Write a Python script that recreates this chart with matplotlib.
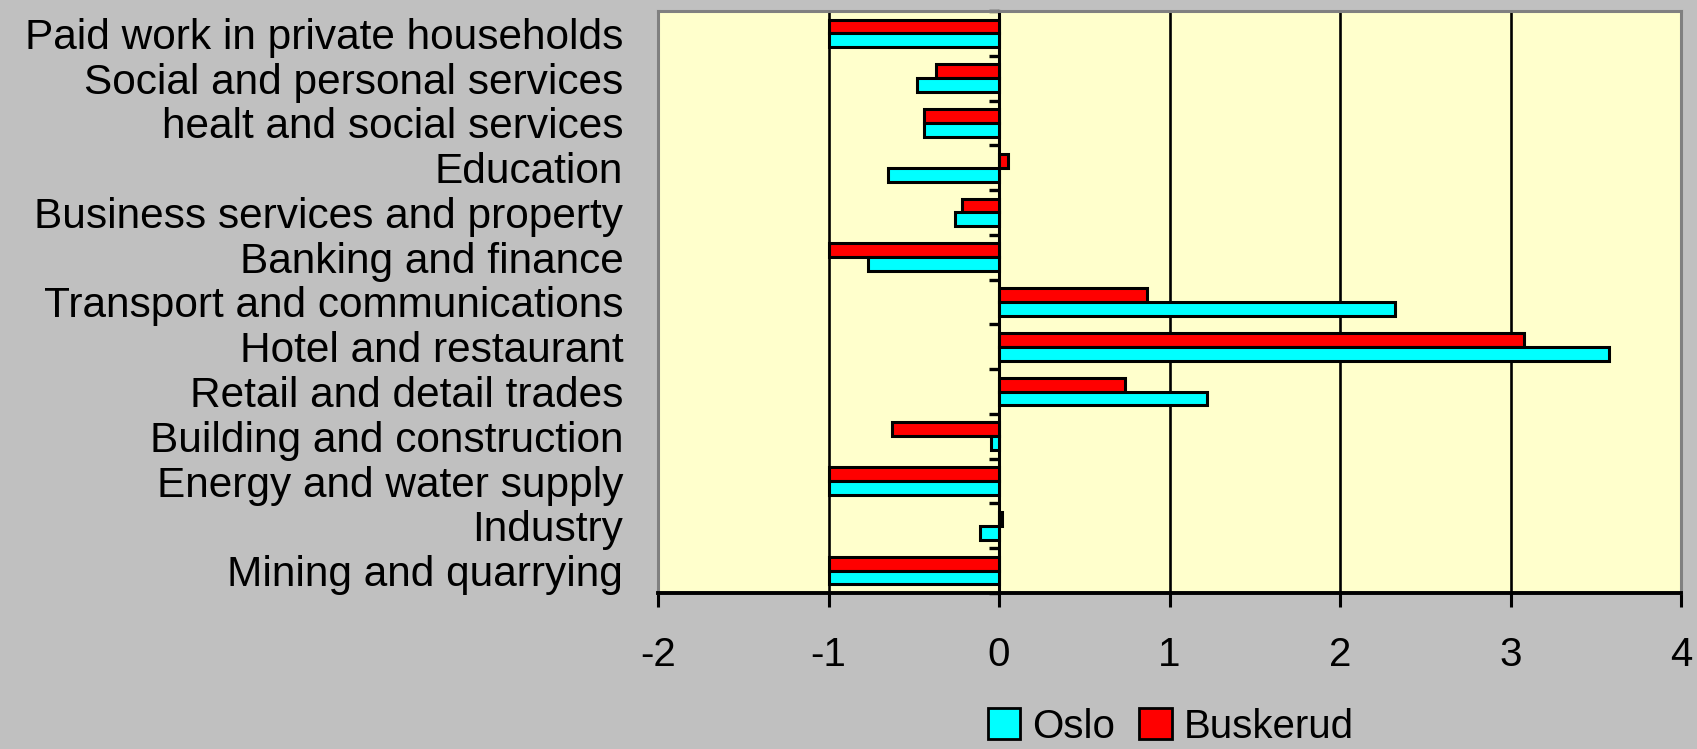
import matplotlib
matplotlib.use("Agg")
import matplotlib.pyplot as plt
import numpy as np
from matplotlib.patches import Patch

plt.rcParams["font.family"] = ["Liberation Sans", "DejaVu Sans"]

# ── data (bottom to top) ──────────────────────────────────────────────────────
categories = [
    "Mining and quarrying",
    "Industry",
    "Energy and water supply",
    "Building and construction",
    "Retail and detail trades",
    "Hotel and restaurant",
    "Transport and communications",
    "Banking and finance",
    "Business services and property",
    "Education",
    "healt and social services",
    "Social and personal services",
    "Paid work in private households",
]
oslo     = [-1.0, -0.11, -1.0, -0.05, 1.22, 3.58, 2.32, -0.77, -0.26, -0.65, -0.44, -0.48, -1.0]
buskerud = [-1.0,  0.02, -1.0, -0.63, 0.74, 3.08, 0.87, -1.0,  -0.22,  0.05, -0.44, -0.37, -1.0]
xticks = [-2, -1, 0, 1, 2, 3, 4]

CYAN = "#00FFFF"
RED = "#FF0000"
EDGE_GRAY = "#808080"

fig = plt.figure(figsize=(16.97, 7.49), dpi=100, facecolor="#C0C0C0")
ax = fig.add_axes([0.3878, 0.2083, 0.6028, 0.777])
ax.set_facecolor("#FFFFCC")

y = np.arange(len(categories))
h = 0.31
ax.barh(y + h / 2, buskerud, height=h, color=RED, edgecolor="black",
        linewidth=2.2, zorder=3)
ax.barh(y - h / 2, oslo, height=h, color=CYAN, edgecolor="black",
        linewidth=2.2, zorder=3)

ax.set_xlim(-2, 4)
ax.set_ylim(-0.5, len(categories) - 0.5)
ax.set_xticks(xticks)
ax.set_xticklabels([str(t) for t in xticks], fontsize=29)
ax.tick_params(axis="x", length=10, width=2.2, pad=21, color="black")
ax.xaxis.grid(True, color="black", linewidth=1.9, zorder=1)
ax.set_axisbelow(True)

ax.set_yticks(y)
ax.set_yticklabels(categories, fontsize=30.5)
ax.tick_params(axis="y", length=0, pad=25)

for side in ["top", "left", "right"]:
    ax.spines[side].set_color(EDGE_GRAY)
    ax.spines[side].set_linewidth(2.2)
ax.spines["bottom"].set_color("black")
ax.spines["bottom"].set_linewidth(2.8)

# y axis drawn at x=0 with ticks between categories
sec = ax.secondary_yaxis(1 / 3)
sec.set_yticks(np.arange(len(categories) + 1) - 0.5)
sec.set_yticklabels([])
sec.tick_params(length=7, width=2.4, color="black")
sec.spines["left"].set_linewidth(2.2)
sec.spines["left"].set_color("black")

handles = [Patch(facecolor=CYAN, edgecolor="black", linewidth=2, label="Oslo"),
           Patch(facecolor=RED, edgecolor="black", linewidth=2, label="Buskerud")]
fig.legend(handles=handles, loc="lower center", bbox_to_anchor=(0.69, -0.044),
           ncol=2, frameon=False, fontsize=29, handlelength=0.8, handleheight=0.8,
           handletextpad=0.3, columnspacing=0.6)

fig.savefig("out.png", dpi=100, facecolor=fig.get_facecolor())
